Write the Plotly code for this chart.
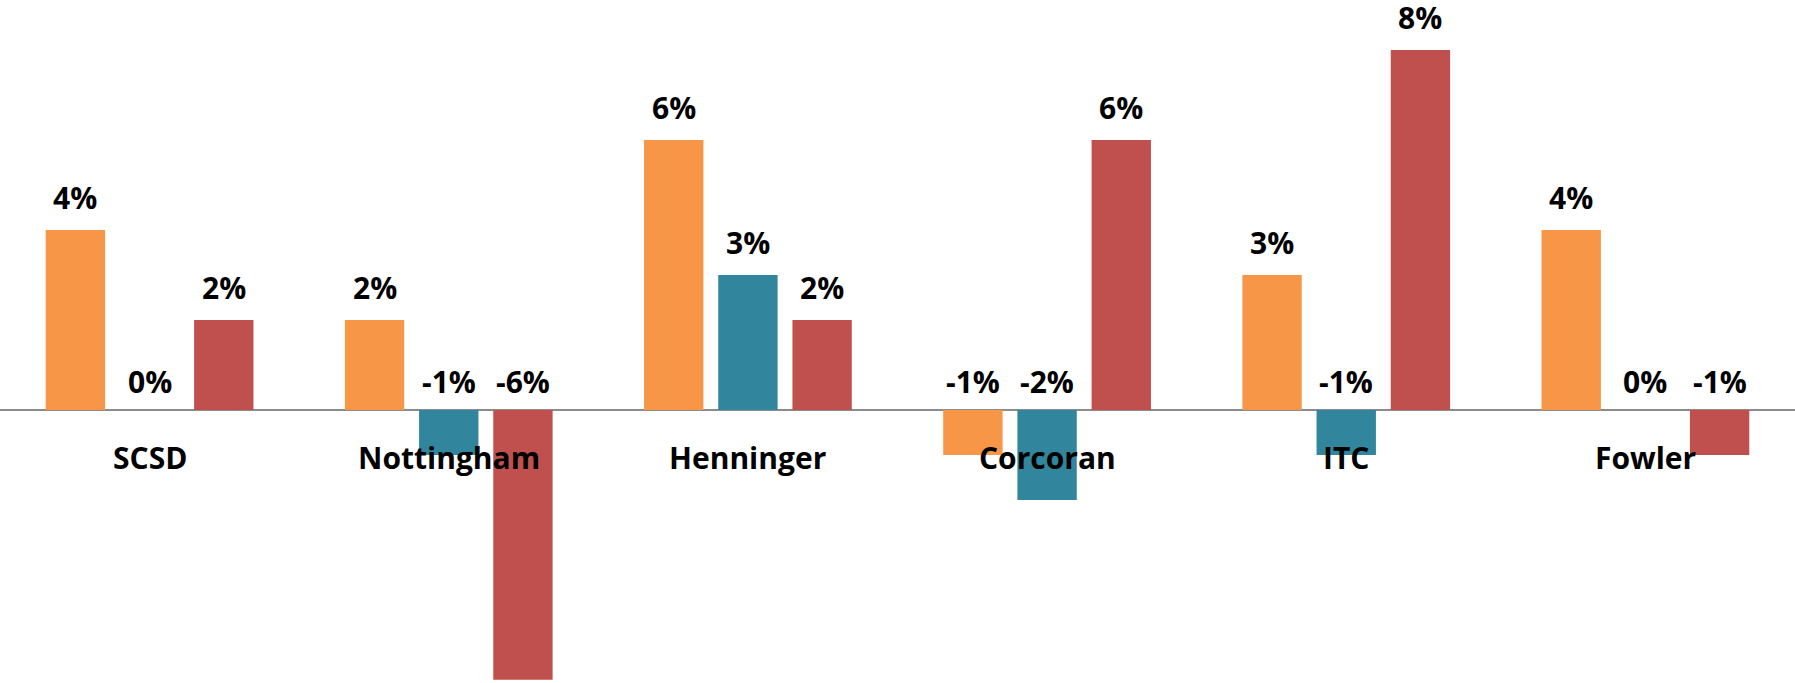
import plotly.graph_objects as go

categories = ["SCSD", "Nottingham", "Henninger", "Corcoran", "ITC", "Fowler"]
series_names = ["Series 1", "Series 2", "Series 3"]
orange_vals = [0.04, 0.02, 0.06, -0.01, 0.03, 0.04]
teal_vals = [0.00, -0.01, 0.03, -0.02, -0.01, 0.00]
red_vals = [0.02, -0.06, 0.02, 0.06, 0.08, -0.01]
colors = ["#F79646", "#31859C", "#C0504D"]

W, H = 1795, 683
BARGAP = 0.256
GROUPGAP = 0.2
FONT = "Open Sans"
FS = 30

fig = go.Figure()
all_vals = [orange_vals, teal_vals, red_vals]
for name, vals, col in zip(series_names, all_vals, colors):
    fig.add_trace(go.Bar(x=categories, y=vals, name=name, marker=dict(color=col, line=dict(width=0))))

cat_px = W / len(categories)
slot_px = cat_px * (1 - BARGAP) / len(all_vals)

annotations = []
for j, vals in enumerate(all_vals):
    for c, v in zip(categories, vals):
        pos = v > 0
        annotations.append(dict(
            x=c, y=max(v, 0), xref="x", yref="y",
            xshift=(j - 1) * slot_px,
            yshift=13 if pos else 9,
            height=36, valign="middle",
            yanchor="bottom", showarrow=False,
            text=f"{round(v * 100):.0f}%",
            font=dict(family=FONT, size=FS, color="black", weight="bold"),
        ))
for c in categories:
    annotations.append(dict(
        x=c, y=0, xref="x", yref="y", yshift=-48, yanchor="middle",
        showarrow=False, text=c,
        font=dict(family=FONT, size=FS, color="black", weight="bold"),
    ))

fig.update_layout(
    width=W, height=H,
    margin=dict(l=0, r=0, t=0, b=0),
    paper_bgcolor="white", plot_bgcolor="white",
    barmode="group", bargap=BARGAP, bargroupgap=GROUPGAP,
    showlegend=False,
    annotations=annotations,
    xaxis=dict(showticklabels=False, showgrid=False, showline=False, ticks="", range=[-0.5, 5.5]),
    yaxis=dict(showticklabels=False, showgrid=False, showline=False, ticks="",
               zeroline=True, zerolinecolor="#8C8C8C", zerolinewidth=2,
               range=[-0.0607, 0.0911]),
)

fig.write_html("out.html", config={"displayModeBar": False},
               post_script="document.body.style.margin='0';document.body.style.overflow='hidden';")
